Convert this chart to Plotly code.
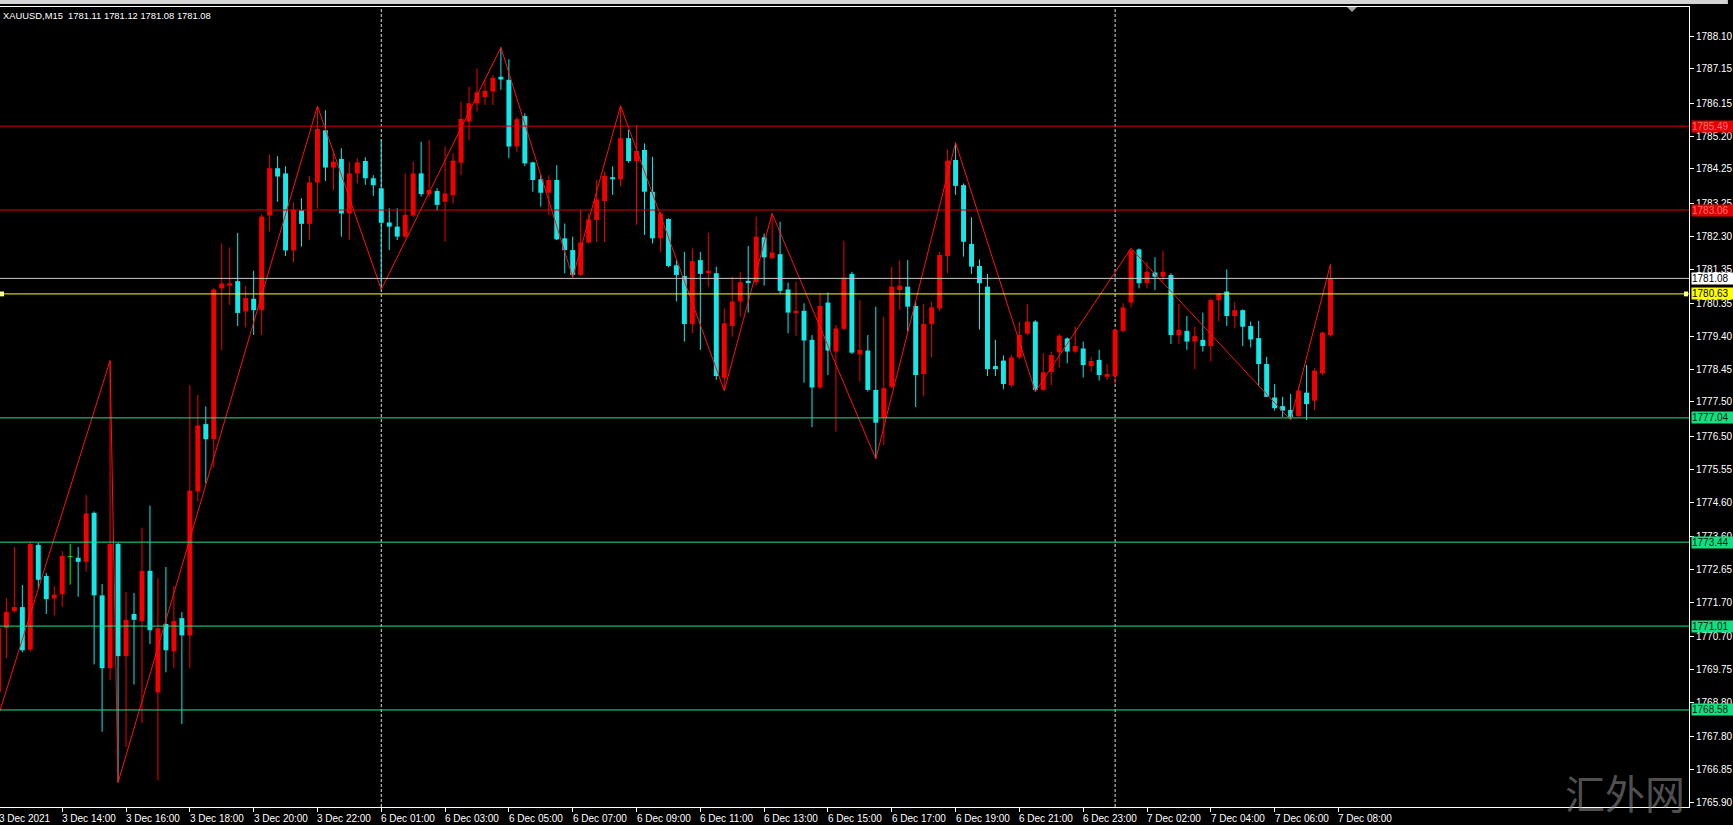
import plotly.graph_objects as go

# ---------------- data (15-minute XAUUSD bars, 3 Dec 12:00 .. 7 Dec 07:45) ----------------
opens = [1769.10, 1770.95, 1771.44, 1771.56, 1770.33, 1773.36, 1772.46, 1771.81, 1771.93, 1773.02,
         1772.99, 1772.87, 1774.29, 1771.90, 1769.79, 1773.39, 1770.14, 1771.36, 1771.16, 1772.61,
         1769.09, 1771.07, 1770.28, 1771.24, 1770.74, 1774.91, 1776.86, 1776.42, 1780.79, 1780.87,
         1781.00, 1780.12, 1780.49, 1780.16, 1782.90, 1784.27, 1784.12, 1781.89, 1783.05, 1782.66,
         1783.86, 1785.37, 1784.29, 1784.54, 1782.96, 1784.12, 1784.48, 1783.98, 1783.69, 1782.70,
         1782.58, 1782.29, 1782.90, 1784.12, 1783.52, 1783.61, 1783.30, 1783.49, 1784.43, 1785.62,
         1786.15, 1786.33, 1786.49, 1786.92, 1786.83, 1784.90, 1785.78, 1784.44, 1783.95, 1783.56,
         1783.93, 1782.24, 1781.90, 1781.18, 1782.12, 1782.77, 1783.32, 1784.01, 1783.95, 1785.14,
         1784.48, 1784.80, 1783.59, 1782.24, 1782.80, 1781.46, 1781.15, 1779.76, 1781.61, 1781.25,
         1781.23, 1778.20, 1779.70, 1780.41, 1781.01, 1780.97, 1782.27, 1781.66, 1781.78, 1780.76,
         1780.07, 1780.14, 1779.30, 1777.92, 1780.38, 1778.96, 1779.62, 1781.21, 1778.88, 1778.99,
         1777.85, 1777.04, 1777.94, 1780.74, 1780.84, 1780.28, 1778.31, 1779.76, 1780.21, 1781.73,
         1784.51, 1783.78, 1782.08, 1781.44, 1780.84, 1778.54, 1778.70, 1777.99, 1778.79, 1779.48,
         1779.83, 1777.85, 1778.37, 1778.94, 1779.34, 1778.96, 1779.05, 1778.54, 1778.72, 1778.23,
         1778.25, 1779.56, 1780.38, 1781.92, 1780.94, 1781.25, 1781.13, 1781.18, 1779.44, 1779.56,
         1779.25, 1779.30, 1779.12, 1780.45, 1780.70, 1779.99, 1780.16, 1779.70, 1779.35, 1778.60,
         1777.63, 1777.38, 1777.27, 1777.09, 1777.77, 1777.54, 1778.33, 1779.44]
highs = [1771.20, 1771.82, 1773.30, 1772.20, 1773.45, 1773.42, 1772.55, 1772.17, 1773.18, 1773.39,
         1773.30, 1774.81, 1774.33, 1772.23, 1778.70, 1773.42, 1772.00, 1771.97, 1773.86, 1774.50,
         1772.40, 1772.72, 1772.17, 1771.42, 1777.99, 1777.70, 1777.37, 1780.80, 1782.09, 1781.98,
         1782.40, 1780.86, 1781.30, 1782.93, 1784.67, 1784.62, 1784.33, 1783.28, 1783.40, 1784.04,
         1786.07, 1785.95, 1784.79, 1784.85, 1784.46, 1784.56, 1784.59, 1784.07, 1785.10, 1783.11,
         1783.11, 1784.12, 1784.46, 1785.04, 1785.09, 1783.69, 1784.90, 1784.70, 1786.20, 1786.63,
         1787.16, 1786.83, 1786.97, 1787.77, 1787.43, 1785.76, 1785.86, 1784.46, 1784.07, 1784.07,
         1784.36, 1782.67, 1782.29, 1783.06, 1782.96, 1783.93, 1784.17, 1784.32, 1786.08, 1785.38,
         1785.52, 1784.99, 1784.60, 1783.01, 1782.82, 1781.61, 1781.85, 1781.95, 1781.85, 1782.40,
         1781.42, 1780.21, 1781.13, 1781.27, 1782.02, 1782.87, 1782.38, 1782.96, 1782.72, 1780.96,
         1780.99, 1780.36, 1779.44, 1780.65, 1780.67, 1779.73, 1782.17, 1781.27, 1780.45, 1779.44,
         1780.26, 1779.97, 1781.42, 1781.60, 1781.61, 1780.41, 1780.34, 1780.41, 1781.85, 1784.82,
         1785.01, 1783.83, 1782.85, 1781.63, 1781.21, 1779.30, 1778.85, 1778.86, 1779.83, 1780.33,
         1779.87, 1778.91, 1778.96, 1779.47, 1779.37, 1779.68, 1779.25, 1778.81, 1779.01, 1778.60,
         1779.63, 1780.36, 1781.95, 1781.95, 1781.56, 1781.69, 1781.88, 1781.23, 1780.34, 1779.99,
         1779.68, 1780.09, 1780.50, 1780.65, 1781.34, 1780.40, 1780.18, 1779.83, 1779.85, 1778.81,
         1778.02, 1777.65, 1777.73, 1777.94, 1778.57, 1778.47, 1779.53, 1781.49]
lows = [1768.60, 1770.08, 1771.40, 1770.25, 1770.28, 1772.10, 1771.36, 1771.32, 1771.56, 1772.21,
        1771.86, 1772.58, 1769.90, 1767.95, 1769.44, 1766.48, 1767.50, 1769.32, 1768.20, 1770.49,
        1766.54, 1769.67, 1769.79, 1768.17, 1769.79, 1774.62, 1775.14, 1775.60, 1779.00, 1780.31,
        1779.70, 1779.67, 1779.44, 1779.44, 1782.44, 1783.30, 1781.73, 1781.54, 1782.00, 1782.20,
        1783.10, 1783.90, 1783.63, 1782.29, 1782.19, 1783.83, 1783.79, 1783.47, 1780.76, 1781.90,
        1782.19, 1782.24, 1782.87, 1783.45, 1783.45, 1783.04, 1782.14, 1783.25, 1784.07, 1785.09,
        1785.91, 1786.10, 1786.10, 1786.54, 1784.56, 1784.75, 1784.33, 1783.59, 1783.16, 1782.92,
        1782.19, 1781.23, 1781.11, 1781.15, 1782.10, 1782.14, 1782.14, 1783.50, 1783.74, 1784.43,
        1782.63, 1782.34, 1782.09, 1781.85, 1781.40, 1780.41, 1779.25, 1779.49, 1779.01, 1780.84,
        1778.14, 1777.83, 1779.39, 1779.97, 1780.09, 1780.87, 1780.87, 1781.66, 1780.63, 1779.49,
        1779.41, 1778.06, 1776.77, 1777.87, 1778.28, 1776.64, 1779.59, 1778.89, 1778.09, 1777.80,
        1775.85, 1776.25, 1777.90, 1780.16, 1779.54, 1777.35, 1777.67, 1778.79, 1780.14, 1781.23,
        1783.50, 1781.71, 1781.21, 1779.60, 1778.25, 1778.25, 1777.87, 1777.94, 1778.74, 1779.44,
        1777.80, 1777.83, 1777.99, 1778.50, 1778.62, 1778.91, 1778.21, 1778.38, 1778.12, 1778.14,
        1778.02, 1779.51, 1780.24, 1780.79, 1780.79, 1780.74, 1780.98, 1779.18, 1779.18, 1779.01,
        1778.45, 1778.96, 1778.67, 1779.83, 1779.70, 1779.63, 1779.12, 1779.08, 1777.97, 1777.65,
        1777.25, 1777.07, 1776.98, 1777.07, 1776.98, 1777.27, 1778.28, 1779.39]
closes = [1770.95, 1771.42, 1771.56, 1770.31, 1773.39, 1772.35, 1771.79, 1771.92, 1773.04, 1773.02,
          1772.87, 1774.27, 1771.90, 1769.79, 1773.39, 1770.14, 1771.19, 1771.19, 1772.61, 1770.89,
          1770.95, 1770.31, 1771.16, 1770.74, 1774.93, 1776.82, 1776.42, 1780.76, 1780.93, 1780.94,
          1780.08, 1780.51, 1780.16, 1782.87, 1784.27, 1784.03, 1781.89, 1783.07, 1782.66, 1783.86,
          1785.41, 1784.29, 1784.46, 1782.96, 1784.12, 1784.44, 1783.98, 1783.78, 1782.69, 1782.58,
          1782.29, 1782.92, 1784.12, 1783.52, 1783.64, 1783.21, 1783.54, 1784.49, 1785.70, 1786.15,
          1786.47, 1786.51, 1786.89, 1786.84, 1784.90, 1785.69, 1784.41, 1783.93, 1783.56, 1783.93,
          1782.21, 1781.90, 1781.18, 1782.12, 1782.79, 1783.37, 1784.05, 1783.95, 1785.14, 1784.48,
          1784.77, 1783.59, 1782.24, 1782.96, 1781.44, 1781.18, 1779.76, 1781.58, 1781.21, 1781.30,
          1778.25, 1779.78, 1780.41, 1780.97, 1780.97, 1782.29, 1781.69, 1781.83, 1780.72, 1780.09,
          1780.14, 1779.28, 1777.92, 1780.28, 1778.99, 1779.63, 1781.10, 1778.93, 1779.01, 1777.85,
          1776.90, 1777.90, 1780.84, 1780.87, 1780.26, 1778.28, 1779.76, 1780.24, 1781.76, 1784.49,
          1783.76, 1782.14, 1781.42, 1780.94, 1778.45, 1778.45, 1778.02, 1778.79, 1779.44, 1779.83,
          1777.85, 1778.36, 1778.86, 1779.42, 1778.96, 1779.12, 1778.57, 1778.69, 1778.28, 1778.31,
          1779.59, 1780.24, 1781.88, 1780.94, 1781.27, 1781.13, 1781.27, 1779.44, 1779.59, 1779.25,
          1779.41, 1779.12, 1780.45, 1780.63, 1779.99, 1780.16, 1779.68, 1779.31, 1778.60, 1777.65,
          1777.32, 1777.25, 1777.07, 1777.83, 1777.44, 1778.41, 1779.51, 1781.08]

# ZigZag indicator vertices (bar index, price)
zigzag_bars = [-2, 14, 15, 40, 48, 63, 72, 78, 91, 97, 110, 120, 130, 142, 162, 167]
zigzag_prices = [1766.95, 1778.70, 1766.48, 1786.07, 1780.76, 1787.77, 1781.11, 1786.08, 1777.83,
                 1782.96, 1775.85, 1785.01, 1777.80, 1781.95, 1776.98, 1781.49]

# horizontal levels
red_levels = [1785.49, 1783.06]
green_levels = [1777.04, 1773.44, 1771.01, 1768.58]
bid_level = 1781.08
yellow_level = 1780.63

# day separators (bar index of day start)
day_starts = [48, 140]

# time axis labels (every 8 bars)
time_label_bars = [0, 8, 16, 24, 32, 40, 48, 56, 64, 72, 80, 88, 96, 104, 112, 120, 128, 136,
                   144, 152, 160, 168]
time_labels = ["3 Dec 2021", "3 Dec 14:00", "3 Dec 16:00", "3 Dec 18:00", "3 Dec 20:00",
               "3 Dec 22:00", "6 Dec 01:00", "6 Dec 03:00", "6 Dec 05:00", "6 Dec 07:00",
               "6 Dec 09:00", "6 Dec 11:00", "6 Dec 13:00", "6 Dec 15:00", "6 Dec 17:00",
               "6 Dec 19:00", "6 Dec 21:00", "6 Dec 23:00", "7 Dec 02:00", "7 Dec 04:00",
               "7 Dec 06:00", "7 Dec 08:00"]

price_ticks = [1788.10, 1787.15, 1786.15, 1785.20, 1784.25, 1783.25, 1782.30, 1781.35, 1780.35,
               1779.40, 1778.45, 1777.50, 1776.50, 1775.55, 1774.60, 1773.60, 1772.65, 1771.70,
               1770.70, 1769.75, 1768.80, 1767.80, 1766.85, 1765.90]
price_tick_text = ["%.2f" % v for v in price_ticks]

title_text = "XAUUSD,M15\u00a0\u00a01781.11 1781.12 1781.08 1781.08"

# ---------------- styling ----------------
UP = "#F20000"
DOWN = "#12E8E8"
DOJI = "#00FF00"
FONT = "Liberation Sans"
W, H = 1733, 825
ML, MR, MT, MB = 0, 39, 7, 18
PW, PH = W - ML - MR, H - MT - MB

bars = list(range(len(opens)))

fig = go.Figure()

groups = {"up": ([], UP), "down": ([], DOWN), "doji": ([], DOJI)}
for i in bars:
    if closes[i] > opens[i]:
        groups["up"][0].append(i)
    elif closes[i] < opens[i]:
        groups["down"][0].append(i)
    else:
        groups["doji"][0].append(i)

# wicks
for key, (idx, col) in groups.items():
    wx, wy = [], []
    for i in idx:
        wx += [i, i, None]
        wy += [lows[i], highs[i], None]
    fig.add_trace(go.Scatter(x=wx, y=wy, mode="lines", line=dict(color=col, width=1),
                             hoverinfo="skip", showlegend=False))

# bodies
for key, (idx, col) in groups.items():
    if key == "doji":
        continue
    base = [min(opens[i], closes[i]) for i in idx]
    hgt = [abs(closes[i] - opens[i]) for i in idx]
    fig.add_trace(go.Bar(x=idx, y=hgt, base=base, width=0.62, marker=dict(color=col, line=dict(width=0)),
                         hoverinfo="skip", showlegend=False))

# doji ticks
for i in groups["doji"][0]:
    fig.add_trace(go.Scatter(x=[i - 0.31, i + 0.31], y=[opens[i], closes[i]], mode="lines",
                             line=dict(color=DOJI, width=1), hoverinfo="skip", showlegend=False))

# zigzag
fig.add_trace(go.Scatter(x=zigzag_bars, y=zigzag_prices, mode="lines",
                         line=dict(color="#FF1010", width=1), hoverinfo="skip", showlegend=False))

shapes = []
annotations = []

# day separators
for d in day_starts:
    shapes.append(dict(type="line", xref="x", yref="paper", x0=d, x1=d, y0=0, y1=1,
                       line=dict(color="#E0E0E0", width=1, dash="3px,2px"), layer="below"))

def level_label(v, bg, fg):
    annotations.append(dict(xref="paper", x=1, xanchor="left", xshift=2, yref="y", y=v,
                            yanchor="middle", text="%.2f" % v, showarrow=False,
                            bgcolor=bg, borderpad=0, width=42, align="left",
                            font=dict(family=FONT, size=10, color=fg)))

for v in red_levels:
    shapes.append(dict(type="line", xref="paper", x0=0, x1=1, yref="y", y0=v, y1=v,
                       line=dict(color="#D80000", width=1), layer="above"))
    level_label(v, "#E00000", "#FF7070")
for v in green_levels:
    shapes.append(dict(type="line", xref="paper", x0=0, x1=1, yref="y", y0=v, y1=v,
                       line=dict(color="#22E08A", width=1), layer="above"))
    level_label(v, "#10E080", "#002010")
shapes.append(dict(type="line", xref="paper", x0=0, x1=1, yref="y", y0=bid_level, y1=bid_level,
                   line=dict(color="#C8C8C8", width=1), layer="above"))
level_label(bid_level, "#FFFFFF", "#000000")
shapes.append(dict(type="line", xref="paper", x0=0, x1=1, yref="y", y0=yellow_level, y1=yellow_level,
                   line=dict(color="#FFFF00", width=1), layer="above"))
level_label(yellow_level, "#FFFF00", "#000000")

# yellow line anchor squares
for x0p in (0, (PW - 5) / PW):
    shapes.append(dict(type="rect", xref="paper", yref="y", x0=x0p, x1=x0p + 4 / PW,
                       y0=yellow_level - 0.07, y1=yellow_level + 0.07,
                       fillcolor="#FFFF80", line=dict(width=0), layer="above"))

# top window strip
shapes.append(dict(type="rect", xref="paper", yref="paper", x0=0, x1=W / PW,
                   y0=1 + (MT - 4) / PH, y1=1 + MT / PH, fillcolor="#D4D4D4",
                   line=dict(width=0)))
# chart shift triangle
tx = 1356 / PW
shapes.append(dict(type="path", xref="paper", yref="paper",
                   path="M %f %f L %f %f L %f %f Z" % (tx - 5 / PW, 1 - 0 / PH, tx + 5 / PW, 1 - 0 / PH,
                                                        tx, 1 - 5 / PH),
                   fillcolor="#A0A0A0", line=dict(width=0)))

# time labels
for b, t in zip(time_label_bars, time_labels):
    if b == 0:
        annotations.append(dict(xref="paper", x=0, xshift=-3, xanchor="left", yref="paper", y=0,
                                yanchor="middle", yshift=-11, text=t, showarrow=False,
                                font=dict(family=FONT, size=10, color="#FFFFFF")))
    else:
        annotations.append(dict(xref="x", x=b, xshift=-2, xanchor="left", yref="paper", y=0,
                                yanchor="middle", yshift=-11, text=t, showarrow=False,
                                font=dict(family=FONT, size=10, color="#FFFFFF")))

# title
annotations.append(dict(xref="paper", x=0, xanchor="left", xshift=1, yref="paper", y=1,
                        yanchor="middle", yshift=-8, text=title_text, showarrow=False,
                        font=dict(family=FONT, size=9.4, color="#FFFFFF")))

# watermark
annotations.append(dict(xref="paper", x=1630 / PW, xanchor="center", yref="paper", y=(807 - 792) / PH,
                        yanchor="middle", text="汇外网", showarrow=False,
                        font=dict(family="Noto Sans CJK SC", size=40, color="rgba(150,150,150,0.55)")))

fig.update_layout(
    width=W, height=H,
    margin=dict(l=ML, r=MR, t=MT, b=MB, pad=0),
    paper_bgcolor="#000000", plot_bgcolor="#000000",
    showlegend=False, hovermode=False, barmode="overlay",
    shapes=shapes, annotations=annotations,
    xaxis=dict(range=[0.2, 211.95], showgrid=False, zeroline=False, showline=True, mirror=True,
               linecolor="#FFFFFF", linewidth=1, ticks="outside", ticklen=4, tickcolor="#FFFFFF",
               tickvals=time_label_bars, showticklabels=False, fixedrange=True),
    yaxis=dict(range=[1765.77, 1788.94], side="right", showgrid=False, zeroline=False,
               showline=True, mirror=False, linecolor="#FFFFFF", linewidth=1,
               ticks="outside", ticklen=4, tickcolor="#FFFFFF",
               tickvals=price_ticks, ticktext=price_tick_text,
               tickfont=dict(family=FONT, size=10, color="#FFFFFF"), fixedrange=True),
)

fig.write_html("out.html", config={"displayModeBar": False},
               post_script="document.body.style.margin='0';document.body.style.padding='0';"
                           "document.body.style.overflow='hidden';"
                           "document.body.style.background='#000';")
